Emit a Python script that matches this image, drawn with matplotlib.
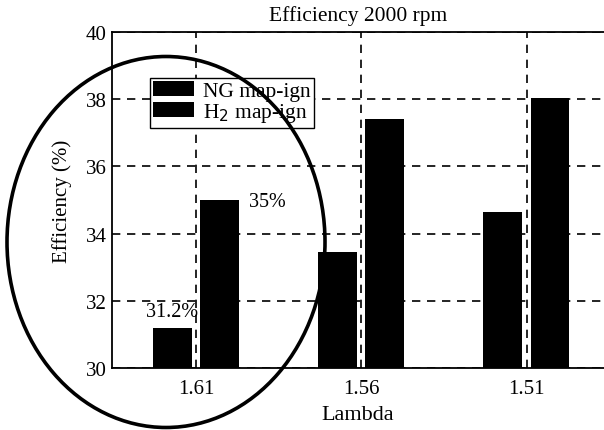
import numpy as np
import matplotlib.pyplot as plt
from matplotlib.patches import Ellipse

plt.rcParams['font.family'] = ['Liberation Serif', 'DejaVu Serif']

lambdas = ['1.61', '1.56', '1.51']
ng_eff = [31.2, 33.45, 34.65]
h2_eff = [35.0, 37.42, 38.05]
series_labels = ['NG map-ign', 'H$_2$ map-ign']
notes = ['31.2%', '35%']

fig = plt.figure(figsize=(6.04, 4.31), dpi=100)
ax = fig.add_axes([112/604, 1 - 369/431, 1 - 112/604, (369 - 33)/431])

x = np.arange(len(lambdas))
w = 0.235
ax.bar(x - 0.145, ng_eff, w, color='black', label=series_labels[0], zorder=2)
ax.bar(x + 0.14, h2_eff, w, color='black', label=series_labels[1], zorder=2)

ax.set_xlim(-0.509, 2.467)
ax.set_ylim(30, 40)
ax.set_yticks([30, 32, 34, 36, 38, 40])
ax.set_xticks(x)
ax.set_xticklabels(lambdas)
ax.tick_params(length=0, labelsize=15)
ax.tick_params(axis='x', pad=8)
ax.tick_params(axis='y', pad=4)
ax.grid(True, color='black', linestyle=(0, (5, 4)), linewidth=1.2, zorder=1)
ax.spines['right'].set_visible(False)
for s in ['left', 'top', 'bottom']:
    ax.spines[s].set_linewidth(1.3)

ax.set_title('Efficiency 2000 rpm', fontsize=15.5, pad=9)
ax.set_xlabel('Lambda', fontsize=16, labelpad=5)
ax.set_ylabel('Efficiency (%)', fontsize=15, labelpad=10)

ax.text(x[0] - 0.145, ng_eff[0] + 0.2, notes[0], ha='center', va='bottom', fontsize=14.5)
ax.text(x[0] + 0.14 + w/2 + 0.06, h2_eff[0] - 0.05, notes[1], ha='left', va='center', fontsize=14.5)

leg = ax.legend(loc='upper left', bbox_to_anchor=((150-112)/492, (369-79)/336),
                fontsize=15.5, frameon=True, fancybox=False, framealpha=1,
                edgecolor='black', borderpad=0.15, labelspacing=0.0,
                handlelength=1.9, handleheight=0.7, handletextpad=0.4, borderaxespad=0)
leg.get_frame().set_linewidth(1.0)

ell = Ellipse((166/604, 1 - 243/431), 318/604, 371/431, transform=fig.transFigure,
              fill=False, edgecolor='black', linewidth=2.6, clip_on=False, zorder=10)
fig.add_artist(ell)

fig.savefig('out.png', dpi=100)
